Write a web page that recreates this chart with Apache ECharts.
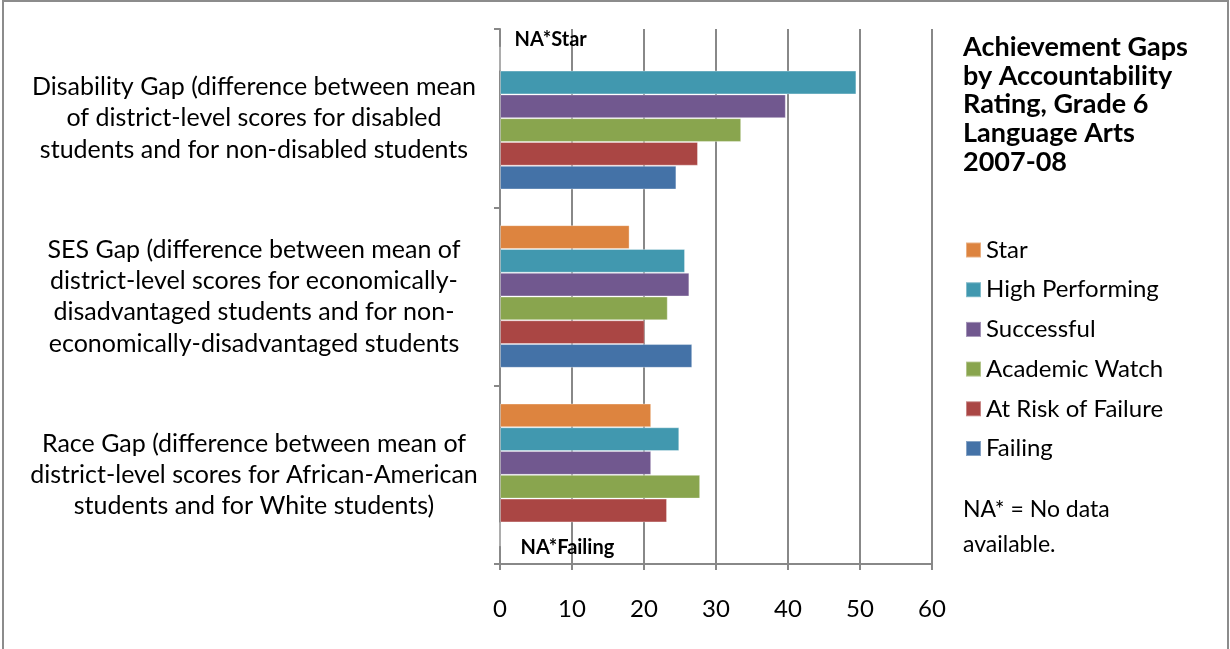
<!DOCTYPE html>
<html>
<head>
<meta charset="utf-8">
<script src="https://cdn.jsdelivr.net/npm/echarts@6/dist/echarts.min.js"></script>
<style>
  html, body { margin: 0; padding: 0; background: #fff; }
  #chart { width: 1230px; height: 649px; }
</style>
</head>
<body>
<div id="chart"></div>
<script>
// 分类（自下而上）
var categories = [
  'Race Gap (difference between mean of\ndistrict-level scores for African-American\nstudents and for White students)',
  'SES Gap (difference between mean of\ndistrict-level scores for economically-\ndisadvantaged students and for non-\neconomically-disadvantaged students',
  'Disability Gap (difference between mean\nof district-level scores for disabled\nstudents and for non-disabled students'
];
var seriesNames = ['Star', 'High Performing', 'Successful', 'Academic Watch', 'At Risk of Failure', 'Failing'];
// null = 无数据 (NA*)
var star = [21.0, 18.0, null];
var highPerforming = [24.9, 25.7, 49.5];
var successful = [21.0, 26.3, 39.7];
var academicWatch = [27.8, 23.3, 33.5];
var atRisk = [23.2, 20.1, 27.5];
var failing = [null, 26.7, 24.5];
var xTicks = [0, 10, 20, 30, 40, 50, 60];

var colors = ['#DD843F', '#4198AF', '#71588F', '#89A54E', '#AA4644', '#4472A7'];
var values = [star, highPerforming, successful, academicWatch, atRisk, failing];
var naOffsets = {0: [15, -19], 5: [21, 13]};

var myChart = echarts.init(document.getElementById('chart'));

var series = seriesNames.map(function (name, i) {
  return {
    name: name,
    type: 'bar',
    barGap: '0%',
    barCategoryGap: '20%',
    itemStyle: { color: colors[i], borderColor: 'rgba(255,255,255,0.35)', borderWidth: 1 },
    data: values[i].map(function (v) {
      if (v === null) {
        // 无数据的标注
        return {
          value: 0,
          label: {
            show: true,
            position: 'insideLeft',
            distance: 0,
            offset: naOffsets[i],
            formatter: 'NA*' + name,
            fontFamily: 'Lato',
            fontWeight: 'bold',
            fontSize: 20,
            color: '#000'
          }
        };
      }
      return v;
    })
  };
});

var option = {
  animation: false,
  color: colors,
  title: {
    text: 'Achievement Gaps\nby Accountability\nRating, Grade 6\nLanguage Arts\n2007-08',
    left: 963,
    top: 33,
    padding: 0,
    textStyle: {
      fontFamily: 'Lato',
      fontWeight: 'bold',
      fontSize: 27,
      lineHeight: 28.7,
      color: '#000'
    }
  },
  legend: {
    orient: 'vertical',
    left: 965,
    top: 238,
    padding: 0,
    icon: 'rect',
    itemWidth: 15,
    itemHeight: 15,
    itemGap: 15.7,
    data: seriesNames,
    textStyle: { fontFamily: 'Lato', fontSize: 24, color: '#000', lineHeight: 24 }
  },
  grid: {
    left: 500,
    right: 298,
    top: 29,
    bottom: 85,
    containLabel: false
  },
  xAxis: {
    type: 'value',
    min: 0,
    max: 60,
    interval: 10,
    axisLine: { show: true, lineStyle: { color: '#888', width: 2 } },
    axisTick: { show: true, length: 6, lineStyle: { color: '#888', width: 2 } },
    splitLine: { show: true, lineStyle: { color: '#888', width: 2 } },
    axisLabel: {
      margin: 33,
      fontFamily: 'Lato',
      fontSize: 24,
      color: '#000',
      formatter: function (v) { return xTicks.indexOf(v) >= 0 ? String(v) : ''; }
    }
  },
  yAxis: {
    type: 'category',
    data: categories,
    axisLine: { show: true, lineStyle: { color: '#888', width: 2 } },
    axisTick: { show: true, length: 6, lineStyle: { color: '#888', width: 2 } },
    axisLabel: {
      margin: 246,
      align: 'center',
      fontFamily: 'Lato',
      fontSize: 25,
      lineHeight: 31.3,
      color: '#000'
    }
  },
  graphic: [{
    type: 'text',
    left: 963,
    top: 492,
    style: {
      text: 'NA* = No data\navailable.',
      fontFamily: 'Lato',
      fontSize: 23,
      lineHeight: 35,
      fill: '#000'
    }
  }, {
    type: 'rect',
    shape: { x: 3, y: 1, width: 1225, height: 700 },
    style: { fill: 'none', stroke: '#8c8c8c', lineWidth: 2 },
    silent: true
  }],
  series: series
};

myChart.setOption(option);
</script>
</body>
</html>
